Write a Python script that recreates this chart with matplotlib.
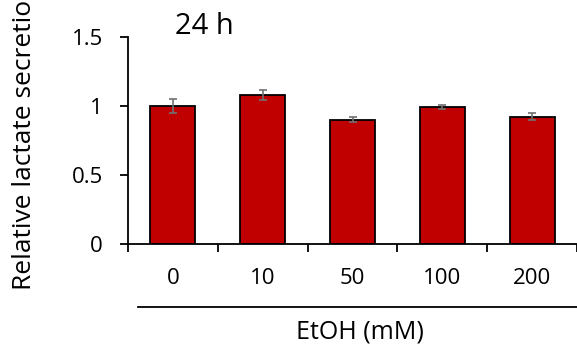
import matplotlib
matplotlib.use("Agg")
import matplotlib.pyplot as plt
from matplotlib.lines import Line2D

categories = ["0", "10", "50", "100", "200"]
values = [1.00, 1.08, 0.90, 0.995, 0.922]
errors = [0.052, 0.033, 0.018, 0.015, 0.026]
yticks = [0, 0.5, 1.0, 1.5]
yticklabels = ["0", "0.5", "1", "1.5"]

plt.rcParams['font.family'] = ['Open Sans', 'DejaVu Sans']

W, H = 577, 354
fig = plt.figure(figsize=(W / 100, H / 100), dpi=100)
ax = fig.add_axes([128 / W, 1 - 244 / H, 1 - 128 / W, (244 - 37) / H])

x = list(range(len(categories)))
ax.bar(x, values, width=0.5, color="#C00000", edgecolor="black", linewidth=1.3, zorder=2)
ax.errorbar(x, values, yerr=errors, fmt="none", ecolor="#707070", elinewidth=1.2,
            capsize=3, capthick=1.2, zorder=3)

ax.set_xlim(-0.5, len(categories) - 0.5)
ax.set_ylim(0, 1.5)
ax.set_yticks(yticks)
ax.set_yticklabels(yticklabels, fontsize=16)
ax.set_xticks(x)
ax.set_xticklabels(categories, fontsize=16)
ax.set_xticks([i + 0.5 for i in range(-1, len(categories))], minor=True)
ax.tick_params(axis="x", which="major", length=0, pad=17)
ax.tick_params(axis="x", which="minor", length=6, width=1.3, direction="out")
ax.tick_params(axis="y", length=6, width=1.3, direction="out", pad=12)

for s in ["top", "right"]:
    ax.spines[s].set_visible(False)
ax.spines["left"].set_linewidth(1.3)
ax.spines["bottom"].set_linewidth(1.3)

fig.text(204 / W, 1 - 27 / H, "24 h", fontsize=21, ha="center", va="center")
fig.add_artist(Line2D([138 / W, 1.0], [1 - 307 / H, 1 - 307 / H], color="black", linewidth=1.3))
fig.text(360 / W, 1 - 332 / H, "EtOH (mM)", fontsize=18, ha="center", va="center")
fig.text(25 / W, 1 - 290 / H, "Relative lactate secretion", fontsize=19, rotation=90,
         ha="center", va="bottom")

fig.savefig("out.png", dpi=100)
